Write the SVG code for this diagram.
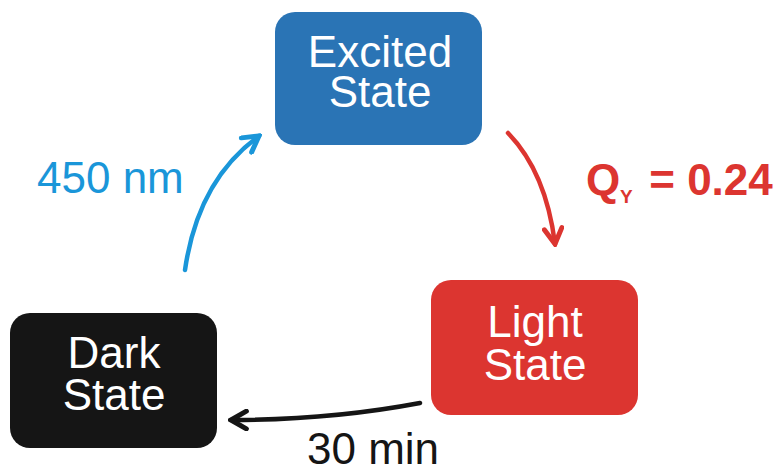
<svg xmlns="http://www.w3.org/2000/svg" width="780" height="470" viewBox="0 0 780 470">
<style>
.lbl{font-family:"Liberation Sans",Arial,sans-serif;font-size:44px;fill:#ffffff;text-anchor:middle}
.edge{fill:none;stroke-width:4.5;stroke-linecap:round}
.t{font-family:"Liberation Sans",Arial,sans-serif;font-size:44px}
</style>
<defs>
<marker id="hb" viewBox="0 0 20 20" refX="17" refY="10" markerWidth="22" markerHeight="22" markerUnits="userSpaceOnUse" orient="auto"><path d="M3,2 L17,10 L3,18" fill="none" stroke="#1a96d9" stroke-width="4.5" stroke-linecap="round"/></marker>
<marker id="hr" viewBox="0 0 20 20" refX="17" refY="10" markerWidth="22" markerHeight="22" markerUnits="userSpaceOnUse" orient="auto"><path d="M3,2 L17,10 L3,18" fill="none" stroke="#dc3530" stroke-width="4.5" stroke-linecap="round"/></marker>
<marker id="hk" viewBox="0 0 20 20" refX="17" refY="10" markerWidth="22" markerHeight="22" markerUnits="userSpaceOnUse" orient="auto"><path d="M3,2 L17,10 L3,18" fill="none" stroke="#151515" stroke-width="4.5" stroke-linecap="round"/></marker>
</defs>
<rect width="780" height="470" fill="#ffffff"/>
<g id="excited">
<rect x="275" y="12" width="207" height="133" rx="20" fill="#2a74b5"/>
<text class="lbl" x="380" y="67">Excited</text>
<text class="lbl" x="380" y="107">State</text>
</g>
<g id="dark">
<rect x="10" y="313" width="207" height="135" rx="20" fill="#151515"/>
<text class="lbl" x="114" y="368">Dark</text>
<text class="lbl" x="114" y="410">State</text>
</g>
<g id="light">
<rect x="431" y="280" width="207" height="135" rx="20" fill="#dc3530"/>
<text class="lbl" x="535" y="337">Light</text>
<text class="lbl" x="535" y="380">State</text>
</g>
<g id="connectors">
<path class="edge" d="M185,270 Q198,180 259,136" stroke="#1a96d9" marker-end="url(#hb)"/>
<path class="edge" d="M508,133 Q546,172 555,244" stroke="#dc3530" marker-end="url(#hr)"/>
<path class="edge" d="M420,403 Q330,420 231,420" stroke="#151515" marker-end="url(#hk)"/>
</g>
<g id="labels">
<text class="t" x="37" y="193" fill="#1a96d9">450 nm</text>
<text class="t" x="586" y="195" fill="#dc3530" font-weight="bold">Q<tspan x="620" y="203" font-size="19">Y</tspan><tspan x="637" y="195"> = 0.24</tspan></text>
<text class="t" x="307" y="464" fill="#151515" font-size="42">30 min</text>
</g>
</svg>
